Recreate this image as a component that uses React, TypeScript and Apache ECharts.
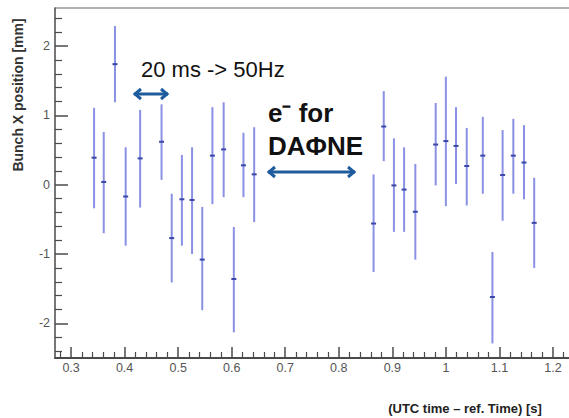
import React, { useEffect, useRef } from "react";
import * as echarts from "echarts";

// Bunch timestamps (s) and measured X position (mm) with error-bar limits
const times = [0.343, 0.361, 0.382, 0.402, 0.429, 0.469, 0.488, 0.507, 0.526, 0.545, 0.564, 0.585, 0.604, 0.622, 0.642, 0.865, 0.884, 0.903, 0.922, 0.943, 0.981, 1.0, 1.019, 1.039, 1.069, 1.087, 1.106, 1.126, 1.146, 1.165];
const positions = [0.39, 0.04, 1.74, -0.17, 0.38, 0.62, -0.77, -0.21, -0.22, -1.08, 0.42, 0.51, -1.36, 0.28, 0.15, -0.56, 0.84, -0.01, -0.07, -0.39, 0.58, 0.63, 0.56, 0.27, 0.42, -1.62, 0.14, 0.42, 0.32, -0.55];
const upper = [1.11, 0.76, 2.29, 0.54, 1.08, 1.16, -0.13, 0.43, 0.54, -0.32, 1.12, 1.19, -0.61, 0.75, 0.83, 0.15, 1.35, 0.67, 0.54, 0.3, 1.18, 1.56, 1.12, 0.82, 0.98, -0.97, 0.79, 0.95, 0.86, 0.1];
const lower = [-0.34, -0.7, 1.19, -0.88, -0.33, 0.07, -1.41, -0.88, -1.0, -1.81, -0.28, -0.18, -2.13, -0.18, -0.54, -1.26, 0.34, -0.68, -0.68, -1.08, -0.01, -0.31, 0.01, -0.3, -0.13, -2.29, -0.52, -0.13, -0.21, -1.2];

const xTickLabels = [0.3, 0.4, 0.5, 0.6, 0.7, 0.8, 0.9, 1, 1.1, 1.2];
const yTickLabels = [-2, -1, 0, 1, 2];

const X_MIN = 0.27;
const X_MAX = 1.23;
const Y_MIN = -2.5;
const Y_MAX = 2.55;

function minorTicks(min: number, max: number, step: number, majors: number[]) {
  const out: number[] = [];
  const start = Math.ceil(min / step - 1e-9);
  const end = Math.floor(max / step + 1e-9);
  for (let i = start; i <= end; i++) {
    const v = Math.round(i * step * 1000) / 1000;
    if (!majors.some((m) => Math.abs(m - v) < 1e-6)) out.push(v);
  }
  return out;
}

const FONT = "Liberation Sans, Arial, sans-serif";
const AXIS_COLOR = "#4a4a4a";
const ARROW_COLOR = "#1f5c9e";

function arrow(x1: number, x2: number, y: number) {
  const h = 5;
  const w = 7;
  return [
    { type: "line", shape: { x1, y1: y, x2, y2: y }, style: { stroke: ARROW_COLOR, lineWidth: 3 } },
    { type: "polyline", shape: { points: [[x1 + w, y - h], [x1 + 1, y], [x1 + w, y + h]] }, style: { stroke: ARROW_COLOR, lineWidth: 3, fill: "none" } },
    { type: "polyline", shape: { points: [[x2 - w, y - h], [x2 - 1, y], [x2 - w, y + h]] }, style: { stroke: ARROW_COLOR, lineWidth: 3, fill: "none" } },
  ];
}

export default function App() {
  const ref = useRef<HTMLDivElement>(null);
  useEffect(() => {
    if (!ref.current) return;
    const chart = echarts.init(ref.current, undefined, { renderer: "svg" });
    const data = times.map((t, i) => [t, positions[i], lower[i], upper[i]]);
    const xMinor = minorTicks(X_MIN, X_MAX, 0.02, xTickLabels);
    const yMinor = minorTicks(Y_MIN, Y_MAX, 0.2, yTickLabels);
    chart.setOption({
      animation: false,
      backgroundColor: "#ffffff",
      grid: { left: 55, right: 0, top: 8, bottom: 60, containLabel: false },
      xAxis: [
        {
          type: "value",
          min: X_MIN,
          max: X_MAX,
          position: "bottom",
          axisLine: { show: true, onZero: false, lineStyle: { color: AXIS_COLOR, width: 2 } },
          axisTick: { show: true, inside: true, length: 11, customValues: xTickLabels, lineStyle: { color: AXIS_COLOR, width: 1.5 } },
          axisLabel: {
            show: true,
            customValues: xTickLabels,
            formatter: (v: number) => String(v),
            color: "#555",
            fontFamily: FONT,
            fontSize: 12.5,
            margin: 3,
          },
          splitLine: { show: false },
        },
        {
          type: "value",
          min: X_MIN,
          max: X_MAX,
          position: "bottom",
          axisLine: { show: false, onZero: false },
          axisTick: { show: true, inside: true, length: 6, customValues: xMinor, lineStyle: { color: AXIS_COLOR, width: 1.2 } },
          axisLabel: { show: false },
          splitLine: { show: false },
        },
      ],
      yAxis: [
        {
          type: "value",
          min: Y_MIN,
          max: Y_MAX,
          position: "left",
          axisLine: { show: true, onZero: false, lineStyle: { color: AXIS_COLOR, width: 1.5 } },
          axisTick: { show: true, inside: true, length: 13, customValues: yTickLabels, lineStyle: { color: AXIS_COLOR, width: 1.5 } },
          axisLabel: {
            show: true,
            customValues: yTickLabels,
            formatter: (v: number) => String(v),
            color: "#555",
            fontFamily: FONT,
            fontSize: 12.5,
            margin: 5,
          },
          splitLine: { show: false },
        },
        {
          type: "value",
          min: Y_MIN,
          max: Y_MAX,
          position: "left",
          axisLine: { show: false, onZero: false },
          axisTick: { show: true, inside: true, length: 7, customValues: yMinor, lineStyle: { color: AXIS_COLOR, width: 1.2 } },
          axisLabel: { show: false },
          splitLine: { show: false },
        },
      ],
      series: [
        {
          type: "custom",
          xAxisIndex: 0,
          yAxisIndex: 0,
          clip: false,
          encode: { x: 0, y: [1, 2, 3] },
          data,
          renderItem: (params: any, api: any) => {
            const x = api.value(0);
            const y = api.value(1);
            const lo = api.value(2);
            const hi = api.value(3);
            const pLo = api.coord([x, lo]);
            const pHi = api.coord([x, hi]);
            const p = api.coord([x, y]);
            return {
              type: "group",
              children: [
                { type: "line", shape: { x1: pLo[0], y1: pLo[1], x2: pHi[0], y2: pHi[1] }, style: { stroke: "#8a91e4", lineWidth: 2 } },
                { type: "line", shape: { x1: p[0] - 2.5, y1: p[1], x2: p[0] + 2.5, y2: p[1] }, style: { stroke: "#3b47a8", lineWidth: 2 } },
              ],
            };
          },
        },
      ],
      graphic: [
        { type: "line", shape: { x1: 55, y1: 8, x2: 569, y2: 8 }, style: { stroke: "#b2b2b2", lineWidth: 2 }, silent: true },
        {
          type: "text",
          x: 18,
          y: 95,
          rotation: Math.PI / 2,
          style: { text: "Bunch X position [mm]", fontFamily: FONT, fontSize: 14, fontWeight: "bold", fill: "#333", align: "center", verticalAlign: "middle" },
        },
        {
          type: "text",
          x: 465,
          y: 408,
          style: { text: "(UTC time \u2013 ref. Time) [s]", fontFamily: FONT, fontSize: 13, fontWeight: "bold", fill: "#222", align: "center", verticalAlign: "middle" },
        },
        {
          type: "text",
          x: 141,
          y: 69,
          style: { text: "20 ms -> 50Hz", fontFamily: FONT, fontSize: 22, fill: "#111", align: "left", verticalAlign: "middle" },
        },
        ...arrow(134, 168, 94),
        {
          type: "text",
          x: 268,
          y: 113,
          style: { text: "e\u207B for", fontFamily: FONT, fontSize: 26, fontWeight: "bold", fill: "#111", align: "left", verticalAlign: "middle" },
        },
        {
          type: "text",
          x: 268,
          y: 146,
          style: { text: "DA\u03A6NE", fontFamily: FONT, fontSize: 26, fontWeight: "bold", fill: "#111", align: "left", verticalAlign: "middle" },
        },
        ...arrow(268, 355, 172),
      ],
    });
    return () => chart.dispose();
  }, []);
  return <div ref={ref} style={{ position: "absolute", left: 0, top: 0, width: 569, height: 418, background: "#fff" }} />;
}
